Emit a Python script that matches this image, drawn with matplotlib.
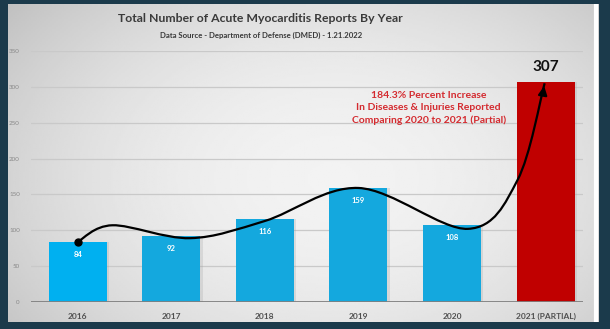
import numpy as np
import matplotlib.pyplot as plt
from matplotlib.path import Path
from matplotlib.patches import PathPatch

# Data
years = ['2016', '2017', '2018', '2019', '2020', '2021 (PARTIAL)']
reports = [84, 92, 116, 159, 108, 307]
bar_colors = ['#00b0f0', '#14a8de', '#14a8de', '#14a8de', '#14a8de', '#c00000']

# hand-drawn trend curve (knots in data units)
curve_x = [0.0, 0.37, 1.2, 2.0, 3.0, 4.17, 4.7, 4.99]
curve_y = [84, 107, 89, 113, 159, 102, 170, 305]

plt.rcParams['font.family'] = ['Lato', 'DejaVu Sans']

fig = plt.figure(figsize=(6.1, 3.29), dpi=100)
fig.patch.set_facecolor('#1b3a4b')

# light grey panel with soft gradient
bg = fig.add_axes([8 / 610, 7 / 329, 591 / 610, 318 / 329])
gx, gy = np.meshgrid(np.linspace(0, 1, 300), np.linspace(0, 1, 160))
r = np.sqrt(((gx - 0.55) / 0.55) ** 2 + ((gy - 0.55) / 0.7) ** 2)
bg.imshow(np.clip(0.95 - 0.12 * r ** 2, 0, 1), cmap='gray', vmin=0, vmax=1,
          aspect='auto', extent=[0, 1, 0, 1])
bg.axvline(0.995, color='white', lw=3)
bg.axis('off')

ax = fig.add_axes([31 / 610, 27 / 329, 552 / 610, 251 / 329])
ax.set_facecolor('none')
x = np.arange(len(years))

# shadows then bars
ax.bar(x + 0.025, reports, width=0.62, color='#a0a0a0', alpha=0.25, zorder=2)
bars = ax.bar(x, reports, width=0.62, color=bar_colors, zorder=3)

for xi, v in zip(x[:-1], reports[:-1]):
    ax.annotate(str(v), (xi, v), xytext=(0, -9), textcoords='offset points',
                ha='center', va='center', color='white', fontsize=5.5,
                fontweight='bold', zorder=5)
ax.annotate(str(reports[-1]), (x[-1], reports[-1]), xytext=(0, 11),
            textcoords='offset points', ha='center', va='center',
            color='#111111', fontsize=11, fontweight='bold')

# trend curve via Catmull-Rom -> Bezier
P = np.column_stack([curve_x, curve_y]).astype(float)
P = np.vstack([P[0], P, P[-1]])
verts = [P[1]]
codes = [Path.MOVETO]
for i in range(1, len(P) - 2):
    c1 = P[i] + (P[i + 1] - P[i - 1]) / 6
    c2 = P[i + 1] - (P[i + 2] - P[i]) / 6
    verts += [c1, c2, P[i + 1]]
    codes += [Path.CURVE4] * 3
ax.add_patch(PathPatch(Path(verts, codes), fill=False, ec='black', lw=1.6, zorder=6))
ax.plot(curve_x[0], curve_y[0], 'o', color='black', ms=5, zorder=7)
ax.annotate('', xy=(curve_x[-1], curve_y[-1]), xytext=(4.965, 285),
            arrowprops=dict(arrowstyle='-|>', color='black', lw=1.6,
                            mutation_scale=13), zorder=7)

ax.text(3.75, 270, '184.3% Percent Increase\nIn Diseases & Injuries Reported\nComparing 2020 to 2021 (Partial)',
        ha='center', va='center', color='#d42a2f', fontsize=7.5,
        fontweight='bold', linespacing=1.45)

ax.set_xlim(-0.5, 5.4)
ax.set_ylim(0, 350)
ax.set_yticks(np.arange(0, 351, 50))
ax.yaxis.grid(True, color='#c9c9c9', lw=0.9, zorder=0)
ax.axhline(0, color='#7f7f7f', lw=2, zorder=4)
ax.set_xticks(x)
ax.set_xticklabels(years, fontsize=6, fontweight='bold', color='#505050')
ax.tick_params(axis='x', length=0, pad=8)
ax.tick_params(axis='y', length=0, pad=8, labelsize=4.5, labelcolor='#8a8a8a')
for s in ax.spines.values():
    s.set_visible(False)

fig.text(260 / 610, 1 - 18 / 329, 'Total Number of Acute Myocarditis Reports By Year',
         ha='center', va='center', fontsize=8.8, fontweight='bold', color='#3a3a3a')
fig.text(261 / 610, 1 - 35 / 329, 'Data Source - Department of Defense (DMED) - 1.21.2022',
         ha='center', va='center', fontsize=5.6, fontweight='bold', color='#3a3a3a')

fig.savefig('out.png', dpi=100, facecolor=fig.get_facecolor())
